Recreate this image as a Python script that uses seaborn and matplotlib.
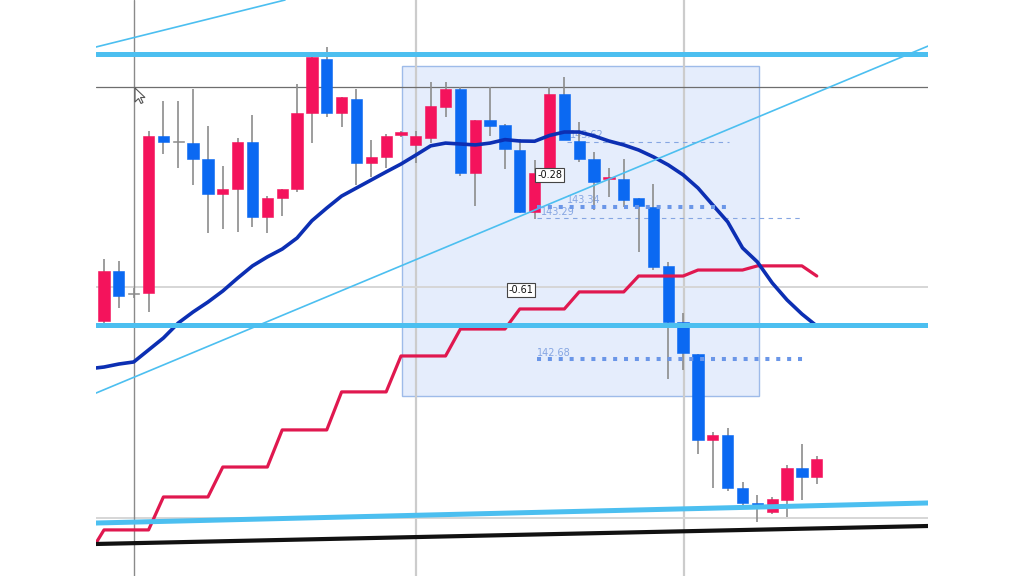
import numpy as np
import pandas as pd
import matplotlib
matplotlib.use("Agg")
import matplotlib.pyplot as plt
import seaborn as sns
from matplotlib.patches import Rectangle, Polygon

# ---------------- data (prices) ----------------
opens = [142.845, 143.062, 142.966, 142.966, 143.648, 143.626, 143.617, 143.548, 143.396, 143.418,
         143.622, 143.296, 143.379, 143.418, 143.748, 143.982, 143.748, 143.808, 143.531, 143.557,
         143.652, 143.609, 143.639, 143.774, 143.852, 143.487, 143.717, 143.696, 143.587, 143.318,
         143.487, 143.830, 143.626, 143.548, 143.461, 143.461, 143.379, 143.340, 143.084, 142.841,
         142.702, 142.328, 142.350, 142.120, 142.055, 142.016, 142.068, 142.207, 142.168]
closes = [143.062, 142.953, 142.962, 143.648, 143.622, 143.622, 143.548, 143.396, 143.418, 143.622,
          143.296, 143.379, 143.418, 143.748, 143.991, 143.748, 143.817, 143.531, 143.557, 143.648,
          143.665, 143.648, 143.778, 143.852, 143.487, 143.717, 143.691, 143.591, 143.318, 143.487,
          143.830, 143.630, 143.548, 143.448, 143.470, 143.370, 143.344, 143.079, 142.841, 142.706,
          142.328, 142.350, 142.120, 142.055, 142.038, 142.072, 142.207, 142.168, 142.246]
highs = [143.114, 143.105, 142.988, 143.669, 143.800, 143.800, 143.852, 143.691, 143.518, 143.639,
         143.739, 143.387, 143.418, 143.873, 143.991, 144.034, 143.817, 143.852, 143.630, 143.656,
         143.669, 143.669, 143.882, 143.882, 143.860, 143.717, 143.860, 143.700, 143.635, 143.544,
         143.860, 143.904, 143.709, 143.578, 143.509, 143.548, 143.379, 143.439, 143.101, 142.880,
         142.702, 142.363, 142.380, 142.146, 142.090, 142.081, 142.220, 142.311, 142.259]
lows = [142.814, 142.901, 142.945, 142.884, 143.570, 143.509, 143.435, 143.227, 143.244, 143.231,
        143.253, 143.227, 143.301, 143.405, 143.617, 143.730, 143.687, 143.435, 143.470, 143.509,
        143.643, 143.531, 143.617, 143.730, 143.474, 143.344, 143.648, 143.505, 143.314, 143.288,
        143.487, 143.630, 143.535, 143.327, 143.383, 143.340, 143.144, 143.066, 142.593, 142.632,
        142.268, 142.120, 142.107, 142.042, 141.973, 142.007, 141.994, 142.068, 142.137]

# moving average (first value is at the left edge, before candle 0)
ma_values = [142.641, 142.645, 142.658, 142.667, 142.719, 142.771, 142.836, 142.884, 142.927, 142.975,
             143.031, 143.084, 143.123, 143.157, 143.205, 143.280, 143.335, 143.387, 143.422, 143.457,
             143.492, 143.526, 143.565, 143.605, 143.617, 143.613, 143.609, 143.617, 143.632, 143.626,
             143.625, 143.650, 143.665, 143.665, 143.648, 143.626, 143.609, 143.587, 143.557, 143.522,
             143.479, 143.422, 143.348, 143.275, 143.162, 143.101, 143.010, 142.936, 142.875, 142.823]
# trailing stop line (first value at the left edge)
stop_values = [141.881,
               141.938, 141.938, 141.938, 141.938,
               142.081, 142.081, 142.081, 142.081,
               142.211, 142.211, 142.211, 142.211,
               142.372, 142.372, 142.372, 142.372,
               142.537, 142.537, 142.537, 142.537,
               142.693, 142.693, 142.693, 142.693,
               142.810, 142.810, 142.810, 142.810,
               142.897, 142.897, 142.897, 142.897,
               142.971, 142.971, 142.971, 142.971,
               143.040, 143.040, 143.040, 143.040,
               143.066, 143.066, 143.066, 143.066,
               143.084, 143.084, 143.084, 143.084,
               143.040]
lead_x = -0.54

h_levels = [144.004, 142.828]                 # thick light blue horizontals
support_line = ([-0.54, 55.49], [141.968, 142.055])
black_line = ([-0.54, 55.49], [141.877, 141.955])
diag_long = ([-0.54, 55.49], [142.532, 144.038])
diag_top = ([-0.54, 12.19], [144.034, 144.238])

dotted_levels = [(143.34, 29.16, 42.09), (142.68, 29.16, 47.07)]
dashed_levels = [(143.29, 29.16, 47.07), (143.62, 31.18, 42.09)]
level_labels = [("143.34", 31.2, 143.370), ("143.29", 29.45, 143.318),
                ("142.68", 29.16, 142.706), ("143.62", 31.4, 143.652)]
box_labels = [("-0.28", 30.03, 143.479), ("-0.61", 28.08, 142.979)]
rect_box = (20.07, 142.519, 44.1, 143.952)

cross_x, cross_y = 2.02, 143.860
light_vlines = [21.01, 39.06]
light_hlines = [142.992, 141.990]

# ---------------- drawing ----------------
sns.set_theme(style="white")
fig = plt.figure(figsize=(10.24, 5.76), dpi=100)
fig.patch.set_facecolor("white")
ax = fig.add_axes([96 / 1024, 0, 832 / 1024, 1])
ax.set_xlim(-0.539, 55.49)
ax.set_ylim(141.738, 144.238)
ax.axis("off")

RED = "#f4135c"
BLUE = "#0b69f2"
LBLUE = "#4cbff0"

# rectangle zone
x0, y0, x1, y1 = rect_box
ax.add_patch(Rectangle((x0, y0), x1 - x0, y1 - y0, facecolor="#e5edfc",
                       edgecolor="#9ebbe9", lw=1.0, zorder=0))

# grid-like helper lines
for v in light_vlines:
    ax.axvline(v, color="#cccccc", lw=1.6, zorder=0.5)
for h in light_hlines:
    ax.axhline(h, color="#d6d6d6", lw=1.4, zorder=0.5)
ax.axvline(cross_x, color="#8a8a8a", lw=1.0, zorder=0.6)
ax.axhline(cross_y, color="#6e6e6e", lw=0.9, zorder=0.6)

# dashed thin levels + labels
for lvl, xa, xb in dashed_levels:
    ax.plot([xa, xb], [lvl, lvl], color="#86a6e2", lw=0.8, ls=(0, (4, 4)), zorder=1)
for txt, tx, ty in level_labels:
    ax.text(tx, ty, txt, color="#86a6e2", fontsize=7, ha="left", va="center", zorder=1)

# candles
idx = np.arange(len(opens))
o = np.array(opens); c = np.array(closes)
cols = []
for oo, cc in zip(o, c):
    if abs(cc - oo) < 0.005:
        cols.append("#8c8c8c")
    elif cc > oo:
        cols.append(RED)
    else:
        cols.append(BLUE)
ax.vlines(idx, lows, highs, color="#8c8c8c", lw=1.2, zorder=2)
bottoms = np.minimum(o, c)
heights = np.maximum(np.abs(c - o), 0.003)
ax.bar(idx, heights, bottom=bottoms, width=0.76, color=cols, edgecolor=cols,
       lw=0.4, zorder=3)

# trailing stop and moving average via seaborn
line_x = [lead_x] + list(idx)
df = pd.DataFrame({"x": line_x, "ma": ma_values, "stop": stop_values})
sns.lineplot(data=df, x="x", y="stop", ax=ax, color="#e0184f", lw=2.3,
             sort=False, estimator=None, zorder=4)
sns.lineplot(data=df, x="x", y="ma", ax=ax, color="#0c2fb3", lw=2.6,
             sort=False, estimator=None, zorder=5)

# light blue trend/level lines
for lvl in h_levels:
    ax.axhline(lvl, color=LBLUE, lw=3.6, zorder=6)
ax.plot(*support_line, color=LBLUE, lw=3.6, zorder=6)
ax.plot(*diag_long, color=LBLUE, lw=1.2, zorder=6)
ax.plot(*diag_top, color=LBLUE, lw=1.2, zorder=6)
ax.plot(*black_line, color="#111111", lw=3.0, zorder=6)

# dotted levels
for lvl, xa, xb in dotted_levels:
    ax.plot([xa, xb], [lvl, lvl], color="#6a96e8", lw=2.9,
            ls=(0, (1, 1.7)), zorder=7)

# boxed value labels
for txt, tx, ty in box_labels:
    ax.text(tx, ty, txt, color="#111111", fontsize=7, ha="center", va="center",
            zorder=8, bbox=dict(boxstyle="square,pad=0.2", fc="white",
                                ec="#444444", lw=0.8))

# mouse cursor (screen decoration at the crosshair)
cur = np.array([[0, 0], [0, 14], [3.5, 10.5], [6, 15.5], [8, 14.5], [5.5, 9.5], [10, 9.5]])
cx, cy = 135, 88
pts = [((cx + px) / 1024, 1 - (cy + py) / 576) for px, py in cur]
fig.patches.append(Polygon(pts, closed=True, transform=fig.transFigure,
                           facecolor="white", edgecolor="#555555", lw=0.8, zorder=9))

fig.savefig("out.png", dpi=100, facecolor="white")
